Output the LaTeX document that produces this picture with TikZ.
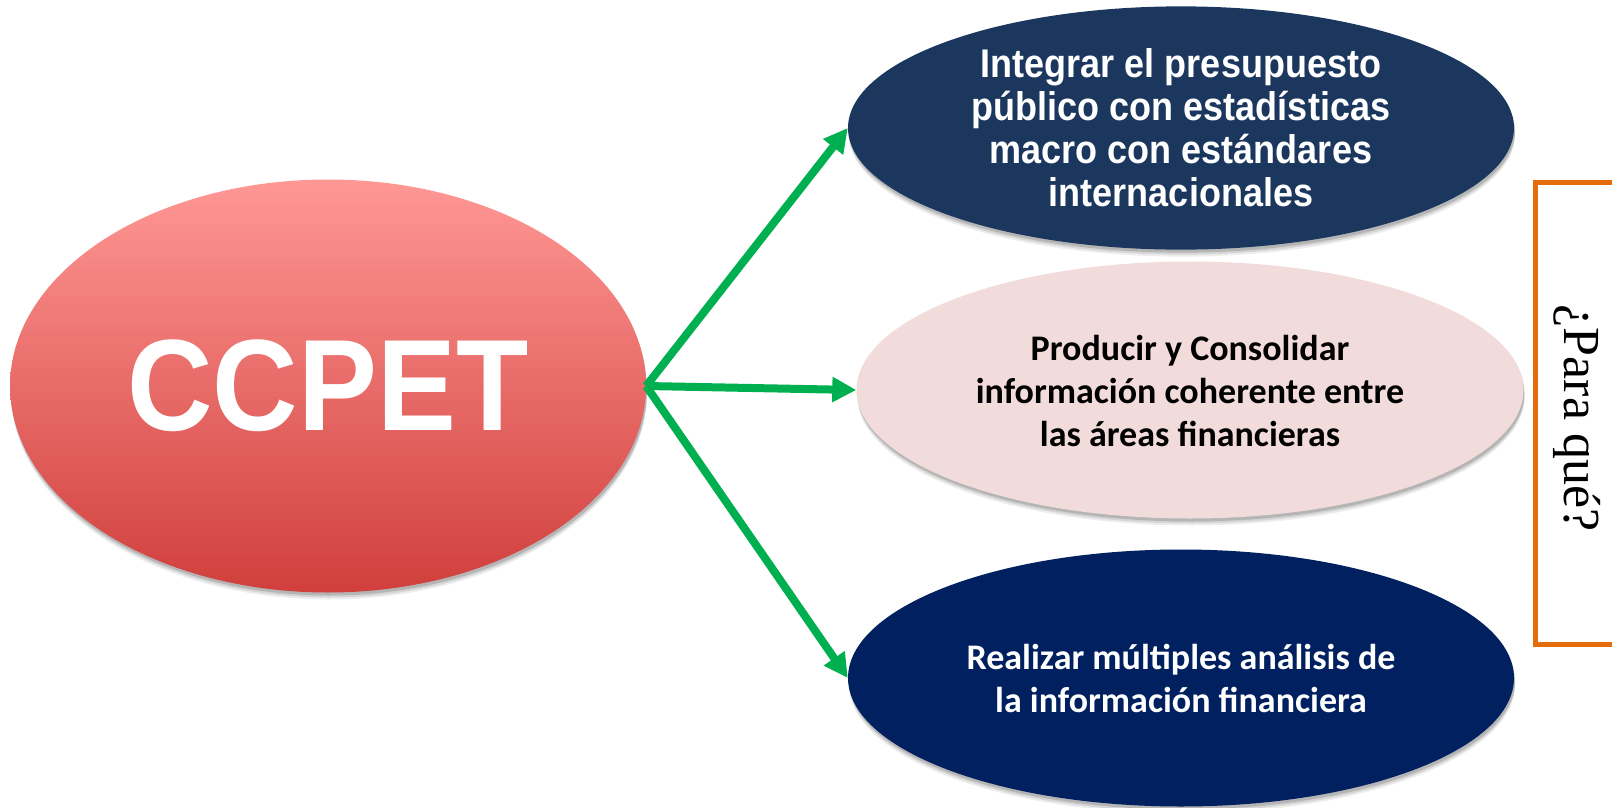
\documentclass[tikz,border=0pt]{standalone}
\usepackage{fontspec}
\usepackage{graphicx}
\usetikzlibrary{shapes.geometric,arrows.meta,shadows}
\newfontfamily\arialfont{Liberation Sans}
\newfontfamily\calfont{Carlito}
\newfontfamily\timesfont{Liberation Serif}
\definecolor{ccptop}{HTML}{FF9895}
\definecolor{ccpbot}{HTML}{D03F3C}
\definecolor{topblue}{HTML}{1C375E}
\definecolor{botblue}{HTML}{002060}
\definecolor{midpink}{HTML}{F2DCDB}
\definecolor{arrgreen}{HTML}{00B050}
\definecolor{boxorange}{HTML}{E46C0A}
\tikzset{
  oval/.style={ellipse, inner sep=0pt, draw=none,
    drop shadow={shadow xshift=1pt, shadow yshift=-7pt, opacity=0.07, fill=black},
    drop shadow={shadow xshift=1pt, shadow yshift=-5pt, opacity=0.10, fill=black},
    drop shadow={shadow xshift=1pt, shadow yshift=-3pt, opacity=0.15, fill=black}},
  link/.style={draw=arrgreen, line width=8pt, -{Triangle[length=24pt,width=24pt]}},
}
\begin{document}
\begin{tikzpicture}[x=1pt,y=-1pt]
\useasboundingbox (0,0) rectangle (1612,808);
% CCPET
\node[oval, minimum width=636pt, minimum height=413pt, top color=ccptop, bottom color=ccpbot, text=white]
  (c) at (328,386) {\scalebox{0.91}[1]{\arialfont\bfseries\fontsize{130}{130}\selectfont CCPET}};
% top
\node[oval, minimum width=666pt, minimum height=241pt, fill=topblue, text=white]
  (t) at (1181,128) {\raisebox{-5pt}[\height][\depth]{\scalebox{0.9}[1]{\arialfont\bfseries\fontsize{40}{43}\selectfont
  \begin{tabular}{@{}c@{}}Integrar el presupuesto\\ público con estadísticas\\ macro con estándares\\ internacionales\end{tabular}}}};
% middle
\node[oval, minimum width=667pt, minimum height=257pt, fill=midpink, text=black]
  (m) at (1190,390) {\raisebox{-5pt}[\height][\depth]{\calfont\bfseries\fontsize{36}{43}\selectfont
  \begin{tabular}{@{}c@{}}Producir y Consolidar\\ información coherente entre\\ las áreas financieras\end{tabular}}};
% bottom
\node[oval, minimum width=666pt, minimum height=257pt, fill=botblue, text=white]
  (b) at (1181,678) {\raisebox{-4pt}[\height][\depth]{\calfont\bfseries\fontsize{36}{43}\selectfont
  \begin{tabular}{@{}c@{}}Realizar múltiples análisis de\\ la información financiera\end{tabular}}};
% arrows
\draw[link] (c.east) -- (t.west);
\draw[link] (c.east) -- (m.west);
\draw[link] (c.east) -- (b.west);
% side box
\node[draw=boxorange, line width=5pt, fill=white, minimum width=90pt, minimum height=462pt, anchor=north west, inner sep=0pt]
  (q) at (1533,180) {};
\node[rotate=-90] (ql) at (1577,418) {\timesfont\fontsize{52}{52}\selectfont ¿Para qué?};
\end{tikzpicture}
\end{document}
